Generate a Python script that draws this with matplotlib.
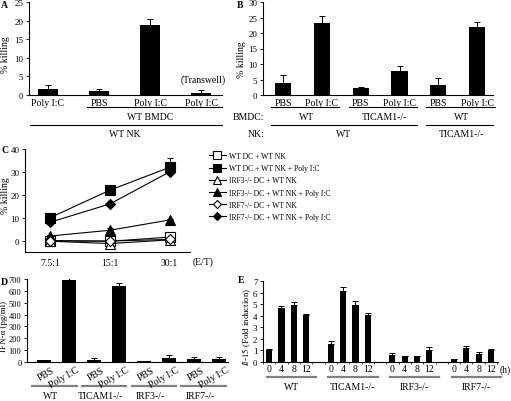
import numpy as np
import matplotlib
matplotlib.use("Agg")
import matplotlib.pyplot as plt
from matplotlib.lines import Line2D
import matplotlib.transforms as mtrans

plt.rcParams['font.family'] = ['Liberation Serif', 'DejaVu Serif']
plt.rcParams['mathtext.fontset'] = 'stix'
plt.rcParams['font.size'] = 7

# ---------------- data ----------------
a_labels = ['Poly I:C', 'PBS', 'Poly I:C', 'Poly I:C']
a_vals = [1.5, 1.0, 18.8, 0.5]
a_err = [1.3, 0.7, 1.5, 0.8]

b_labels = ['PBS', 'Poly I:C', 'PBS', 'Poly I:C', 'PBS', 'Poly I:C']
b_vals = [3.8, 23.3, 2.2, 7.7, 3.3, 21.8]
b_err = [2.5, 2.2, 0.4, 1.5, 2.3, 1.6]

c_ratios = ['7.5:1', '15:1', '30:1']
c_wt = [0.0, -0.3, 1.5]
c_wt_err = [0.5, 0.8, 1.5]
c_wt_poly = [10.0, 22.0, 32.0]
c_wt_poly_err = [1.0, 1.0, 4.0]
c_irf3 = [-0.3, -1.3, 0.3]
c_irf3_err = [0.3, 0.5, 1.0]
c_irf3_poly = [2.0, 4.5, 9.0]
c_irf3_poly_err = [0.5, 0.8, 0.5]
c_irf7 = [-0.2, -0.2, 0.5]
c_irf7_err = [0.3, 0.3, 0.5]
c_irf7_poly = [8.0, 16.0, 30.0]
c_irf7_poly_err = [0.5, 0.5, 1.0]
c_legend = ['WT DC + WT NK', 'WT DC + WT NK + Poly I:C',
            'IRF3-/- DC + WT NK', 'IRF3-/- DC + WT NK + Poly I:C',
            'IRF7-/- DC + WT NK', 'IRF7-/- DC + WT NK + Poly I:C']

d_groups = ['WT', 'TICAM1-/-', 'IRF3-/-', 'IRF7-/-']
d_treat = ['PBS', 'Poly I:C']
d_vals = [15, 695, 18, 645, 8, 30, 28, 28]
d_err = [5, 22, 12, 20, 3, 25, 15, 15]

e_groups = ['WT', 'TICAM1-/-', 'IRF3-/-', 'IRF7-/-']
e_times = ['0', '4', '8', '12']
e_wt = [1.05, 4.65, 4.95, 4.1]
e_wt_err = [0.05, 0.15, 0.25, 0.08]
e_ticam = [1.55, 6.1, 4.95, 4.1]
e_ticam_err = [0.25, 0.4, 0.3, 0.1]
e_irf3 = [0.57, 0.5, 0.5, 1.0]
e_irf3_err = [0.2, 0.02, 0.02, 0.28]
e_irf7 = [0.22, 1.2, 0.73, 1.0]
e_irf7_err = [0.02, 0.2, 0.14, 0.13]

# ---------------- layout helpers ----------------
W, H = 511, 402
fig = plt.figure(figsize=(W / 100, H / 100), dpi=100)


def rect(l, r, t, b):
    return [l / W, 1 - b / H, (r - l) / W, (b - t) / H]


def fy(y):
    return 1 - y / H


def style(ax, ls=6.5):
    ax.spines['top'].set_visible(False)
    ax.spines['right'].set_visible(False)
    for s in ('left', 'bottom'):
        ax.spines[s].set_linewidth(0.8)
    ax.tick_params(axis='y', direction='out', length=2.5, width=0.6, pad=1.5, labelsize=ls)


def ylab(ax, s, l, r, t, b, cx, cy, fs=7):
    lab = ax.set_ylabel(s, fontsize=fs)
    lab.set_verticalalignment('center')
    ax.yaxis.set_label_coords((cx - l) / (r - l), (b - cy) / (b - t))


def hline(ax, x0, x1, ypx, color='black', lw=0.8):
    tr = mtrans.blended_transform_factory(ax.transData, fig.transFigure)
    fig.add_artist(Line2D([x0, x1], [fy(ypx), fy(ypx)], transform=tr,
                          color=color, lw=lw, clip_on=False))


def txt(ax, x, ypx, s, **kw):
    tr = mtrans.blended_transform_factory(ax.transData, fig.transFigure)
    fig.text(x, fy(ypx), s, transform=tr, **kw)


ekw = dict(ecolor='black', elinewidth=0.7, capsize=2, capthick=0.7)

# ---------------- Panel A ----------------
A = (29, 222, 3, 96)
axA = fig.add_axes(rect(*A))
style(axA)
xa = np.arange(len(a_vals))
axA.bar(xa, a_vals, width=0.39, color='black',
        yerr=[np.zeros(len(a_err)), a_err], error_kw=ekw)
axA.set_xlim(-0.37, 3.41)
axA.set_ylim(0, 25)
axA.set_yticks(range(0, 26, 5))
axA.set_xticks(xa)
axA.set_xticklabels(a_labels, fontsize=7)
axA.tick_params(axis='x', length=0, pad=2)
ylab(axA, '% killing', *A, 5, 55)
axA.text(3.04, 4.3, '(Transwell)', ha='center', va='center', fontsize=7)
hline(axA, 0.76, 3.41, 108)
txt(axA, 2.0, 118, 'WT BMDC', ha='center', va='center', fontsize=7)
hline(axA, -0.35, 3.41, 126)
txt(axA, 1.5, 135, 'WT NK', ha='center', va='center', fontsize=7)
fig.text(1 / W, fy(5), 'A', fontweight='bold', fontsize=7, va='center')

# ---------------- Panel B ----------------
B = (263, 493, 3, 96)
axB = fig.add_axes(rect(*B))
style(axB)
xb = np.arange(len(b_vals))
axB.bar(xb, b_vals, width=0.42, color='black',
        yerr=[np.zeros(len(b_err)), b_err], error_kw=ekw)
axB.set_xlim(-0.52, 5.41)
axB.set_ylim(0, 30)
axB.set_yticks(range(0, 31, 5))
axB.set_xticks(xb)
axB.set_xticklabels(b_labels, fontsize=7)
axB.tick_params(axis='x', length=0, pad=2)
ylab(axB, '% killing', *B, 241, 60)
b_bmdc = ['WT', 'TICAM1-/-', 'WT']
for k in range(3):
    hline(axB, 2 * k - 0.31, 2 * k + 1.45, 108)
    txt(axB, 2 * k + 0.6, 118, b_bmdc[k], ha='center', va='center', fontsize=7)
hline(axB, -0.31, 3.45, 126)
hline(axB, 3.69, 5.4, 126)
txt(axB, 1.55, 135, 'WT', ha='center', va='center', fontsize=7)
txt(axB, 4.6, 135, 'TICAM1-/-', ha='center', va='center', fontsize=7)
fig.text(233 / W, fy(118), 'BMDC:', ha='left', va='center', fontsize=7)
fig.text(248 / W, fy(135), 'NK:', ha='left', va='center', fontsize=7)
fig.text(237 / W, fy(5), 'B', fontweight='bold', fontsize=7, va='center')

# ---------------- Panel C ----------------
C = (25, 190, 150, 253)
axC = fig.add_axes(rect(*C))
style(axC)
xc = np.arange(len(c_ratios))
series = [
    (c_wt, c_wt_err, 's', 'white'),
    (c_wt_poly, c_wt_poly_err, 's', 'black'),
    (c_irf3, c_irf3_err, '^', 'white'),
    (c_irf3_poly, c_irf3_poly_err, '^', 'black'),
    (c_irf7, c_irf7_err, 'D', 'white'),
    (c_irf7_poly, c_irf7_poly_err, 'D', 'black'),
]
handles = []
for (vals, err, m, fc), lab in zip(series, c_legend):
    ms = 6.5 if m != 'D' else 5.0
    axC.errorbar(xc, vals, yerr=[np.zeros(3), err], color='black', lw=0.8,
                 marker=m, markersize=ms, markerfacecolor=fc, markeredgecolor='black',
                 markeredgewidth=0.8, capsize=2, elinewidth=0.7, capthick=0.7)
    handles.append(Line2D([], [], color='black', lw=0.8, marker=m,
                          markersize=ms * 0.8, markerfacecolor=fc,
                          markeredgecolor='black', markeredgewidth=0.8, label=lab))
axC.set_xlim(-0.42, 2.34)
axC.set_ylim(-5, 40)
axC.set_yticks(range(0, 41, 10))
axC.set_xticks(xc)
axC.set_xticklabels(c_ratios, fontsize=7)
axC.tick_params(axis='x', length=0, pad=4)
ylab(axC, '% killing', *C, 6, 196)
fig.text(203 / W, fy(262), '(E/T)', ha='center', va='center', fontsize=7)
fig.legend(handles=handles, loc='upper left', bbox_to_anchor=(209 / W, fy(153)),
           frameon=False, fontsize=5.5, handlelength=2.2, handletextpad=0.4,
           labelspacing=0.55, borderpad=0, borderaxespad=0)
fig.text(1 / W, fy(151), 'C', fontweight='bold', fontsize=7, va='center')

# ---------------- Panel D ----------------
D = (27, 228, 280, 363)
axD = fig.add_axes(rect(*D))
style(axD, ls=6)
xd = np.arange(len(d_vals))
axD.bar(xd, d_vals, width=0.55, color='black',
        yerr=[np.zeros(len(d_err)), d_err], error_kw=ekw)
axD.set_xlim(-0.68, 7.36)
axD.set_ylim(0, 700)
axD.set_yticks(range(0, 701, 100))
axD.set_xticks([])
ylab(axD, 'IFN-α (pg/ml)', *D, 4.5, 326, fs=6.5)
for i in xd:
    txt(axD, i + 0.3, 366, d_treat[i % 2], ha='right', va='top',
        rotation=30, rotation_mode='anchor', fontsize=7)
for g, name in enumerate(d_groups):
    p = 2 * g
    hline(axD, p - 0.5, p + 1.3, 387, color='#808080', lw=1.6)
    txt(axD, p + 0.25, 397, name, ha='center', va='center', fontsize=7)
fig.text(1 / W, fy(283), 'D', fontweight='bold', fontsize=7, va='center')

# ---------------- Panel E ----------------
E = (263, 498, 282, 363)
axE = fig.add_axes(rect(*E))
style(axE)
e_sets = [(e_wt, e_wt_err), (e_ticam, e_ticam_err),
          (e_irf3, e_irf3_err), (e_irf7, e_irf7_err)]
for g, (vals, err) in enumerate(e_sets):
    xe = g * 5 + np.arange(len(vals))
    axE.bar(xe, vals, width=0.5, color='black',
            yerr=[np.zeros(len(err)), err], error_kw=ekw)
    for i, t in zip(xe, e_times):
        txt(axE, i, 370, t, ha='center', va='center', fontsize=7)
    hline(axE, g * 5 - 0.2, g * 5 + 3.8, 378, color='#808080', lw=1.6)
    txt(axE, g * 5 + 1.8, 388, e_groups[g], ha='center', va='center', fontsize=7)
axE.set_xlim(-0.32, 18.57)
axE.set_ylim(0, 7)
axE.set_yticks(range(0, 8))
minor = [g * 5 + i + 0.5 for g in range(4) for i in range(-1, 4)]
axE.set_xticks(minor)
axE.set_xticklabels([])
axE.tick_params(axis='x', direction='out', length=1.5, width=0.5)
ylab(axE, r'$\mathit{Il}$-$\mathit{15}$ (Fold induction)', *E, 246.5, 327, fs=6.3)
fig.text(505 / W, fy(370), '(h)', ha='center', va='center', fontsize=7)
fig.text(238 / W, fy(281), 'E', fontweight='bold', fontsize=7, va='center')

fig.savefig('out.png', dpi=100)
